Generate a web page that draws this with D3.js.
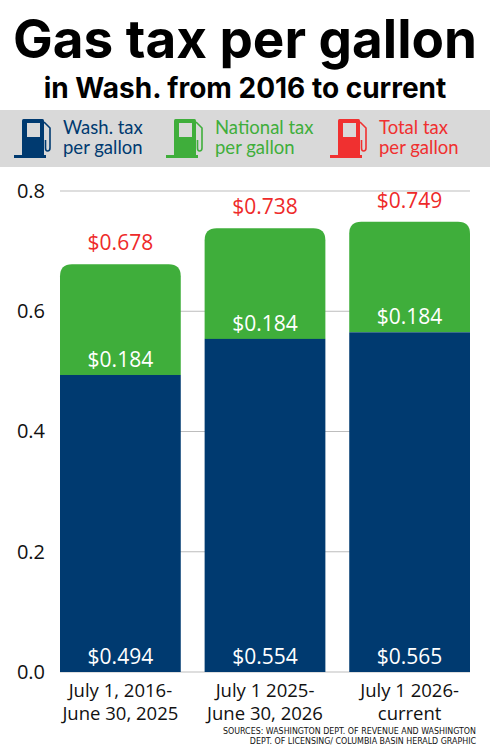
<!DOCTYPE html>
<html>
<head>
<meta charset="utf-8">
<script src="https://cdn.jsdelivr.net/npm/d3@7"></script>
<style>
  body { margin: 0; background: #fff; }
  svg { display: block; }
</style>
</head>
<body>
<div id="chart"></div>
<script>
// data
const periods = ["p1", "p2", "p3"];
const periodLabels = [["July 1, 2016-", "June 30, 2025"], ["July 1 2025-", "June 30, 2026"], ["July 1 2026-", "current"]];
const washTax = [0.494, 0.554, 0.565];
const nationalTax = [0.184, 0.184, 0.184];
const totalTax = [0.678, 0.738, 0.749];
const yTicks = [0.0, 0.2, 0.4, 0.6, 0.8];

const navy = "#003a70", green = "#3fae3b", red = "#ee2a2a";
const bodyFont = "'Open Sans', sans-serif";

const W = 490, H = 750;
const svg = d3.select("#chart").append("svg")
    .attr("width", W)
    .attr("height", H)
    .style("font-family", bodyFont);

// title
svg.append("text")
    .attr("x", W / 2).attr("y", 58)
    .attr("text-anchor", "middle")
    .style("font-family", "Inter, sans-serif")
    .style("font-size", "53px").style("font-weight", "bold")
    .text("Gas tax per gallon");
svg.append("text")
    .attr("x", W / 2).attr("y", 98)
    .attr("text-anchor", "middle")
    .style("font-family", "Inter, sans-serif")
    .style("font-size", "28px").style("font-weight", "bold")
    .text("in Wash. from 2016 to current");

// legend band
svg.append("rect")
    .attr("x", 0).attr("y", 110).attr("width", W).attr("height", 57)
    .attr("fill", "#d9d9d9");

const legendItems = [
    { color: navy, lines: ["Wash. tax", "per gallon"], x: 14 },
    { color: green, lines: ["National tax", "per gallon"], x: 166 },
    { color: "#f03030", lines: ["Total tax", "per gallon"], x: 330 }
];

const leg = svg.selectAll("g.leg").data(legendItems).join("g")
    .attr("class", "leg")
    .attr("transform", d => `translate(${d.x},119)`);

// pump icon
leg.append("rect").attr("x", 8).attr("y", 0).attr("width", 22).attr("height", 37)
    .attr("rx", 1.5).attr("fill", d => d.color);
leg.append("rect").attr("x", 0).attr("y", 36).attr("width", 32).attr("height", 3)
    .attr("fill", d => d.color);
leg.append("rect").attr("x", 13).attr("y", 4).attr("width", 13).attr("height", 14)
    .attr("fill", "#d9d9d9");
leg.append("path")
    .attr("d", "M30,3 L34,7 L36,9 L36,29 Q36,32 33.5,32 Q31.5,32 31.5,29 L31.5,21")
    .attr("fill", "none")
    .attr("stroke", d => d.color)
    .attr("stroke-width", 1.6);

leg.selectAll("text.lt").data(d => d.lines.map(l => ({ l, c: d.color }))).join("text")
    .attr("class", "lt")
    .attr("x", 49)
    .attr("y", (d, i) => 15 + i * 20)
    .attr("fill", d => d.c)
    .style("font-family", "Lato, sans-serif")
    .style("font-size", "18.5px")
    .text(d => d.l);

// chart
const x = d3.scaleBand()
    .domain(periods)
    .range([60, 470])
    .paddingInner(0.165)
    .paddingOuter(0);

const y = d3.scaleLinear()
    .domain([0, 0.8])
    .range([672, 191]);

// gridlines
svg.append("g")
    .selectAll("line").data(yTicks).join("line")
    .attr("x1", 60).attr("x2", 470)
    .attr("y1", d => y(d)).attr("y2", d => y(d))
    .attr("stroke", "#bdbdbd").attr("stroke-width", 1);

// y axis labels
const yAxis = svg.append("g")
    .attr("transform", "translate(45,0)")
    .call(d3.axisLeft(y).tickValues(yTicks).tickFormat(d3.format(".1f")).tickSize(0).tickPadding(0));
yAxis.select(".domain").remove();
yAxis.selectAll("text")
    .style("font-family", bodyFont)
    .style("font-size", "20px")
    .attr("fill", "#111");

const rows = periods.map((p, i) => ({ p, i, wash: washTax[i], nat: nationalTax[i], total: totalTax[i] }));
const bw = x.bandwidth();
const r = 12;

function topRounded(x0, y0, w, h, rad) {
    return `M${x0},${y0 + h} L${x0},${y0 + rad} Q${x0},${y0} ${x0 + rad},${y0} ` +
        `L${x0 + w - rad},${y0} Q${x0 + w},${y0} ${x0 + w},${y0 + rad} L${x0 + w},${y0 + h} Z`;
}

// national (green) segment, rounded top
svg.append("g").selectAll("path").data(rows).join("path")
    .attr("fill", green)
    .attr("d", d => topRounded(x(d.p), y(d.wash + d.nat), bw, y(d.wash) - y(d.wash + d.nat), r));

// wash (navy) segment
svg.append("g").selectAll("rect").data(rows).join("rect")
    .attr("x", d => x(d.p))
    .attr("y", d => y(d.wash))
    .attr("width", bw)
    .attr("height", d => y(0) - y(d.wash))
    .attr("fill", navy);

const labels = svg.append("g").style("font-size", "21px").attr("text-anchor", "middle");

labels.selectAll("text.wash").data(rows).join("text")
    .attr("class", "wash")
    .attr("x", d => x(d.p) + bw / 2)
    .attr("y", y(0) - 8)
    .attr("fill", "#fff")
    .text(d => "$" + d.wash.toFixed(3));

labels.selectAll("text.nat").data(rows).join("text")
    .attr("class", "nat")
    .attr("x", d => x(d.p) + bw / 2)
    .attr("y", d => y(d.wash) - 8)
    .attr("fill", "#fff")
    .text(d => "$" + d.nat.toFixed(3));

labels.selectAll("text.total").data(rows).join("text")
    .attr("class", "total")
    .attr("x", d => x(d.p) + bw / 2)
    .attr("y", d => y(d.total) - 14)
    .attr("fill", red)
    .text(d => "$" + d.total.toFixed(3));

// category labels
const cat = svg.append("g").attr("text-anchor", "middle").style("font-size", "18.5px");
rows.forEach(d => {
    periodLabels[d.i].forEach((line, j) => {
        cat.append("text")
            .attr("x", x(d.p) + bw / 2)
            .attr("y", 697 + j * 23)
            .attr("fill", "#111")
            .text(line);
    });
});

// sources
const src = ["SOURCES: WASHINGTON DEPT. OF REVENUE AND WASHINGTON", "DEPT. OF LICENSING/ COLUMBIA BASIN HERALD GRAPHIC"];
svg.append("g").selectAll("text").data(src).join("text")
    .attr("x", 476)
    .attr("y", (d, i) => 734 + i * 9.5)
    .attr("text-anchor", "end")
    .style("font-family", "'DejaVu Sans Condensed', 'DejaVu Sans', sans-serif")
    .style("font-stretch", "condensed")
    .style("font-size", "8.8px")
    .attr("fill", "#111")
    .text(d => d);
</script>
</body>
</html>
